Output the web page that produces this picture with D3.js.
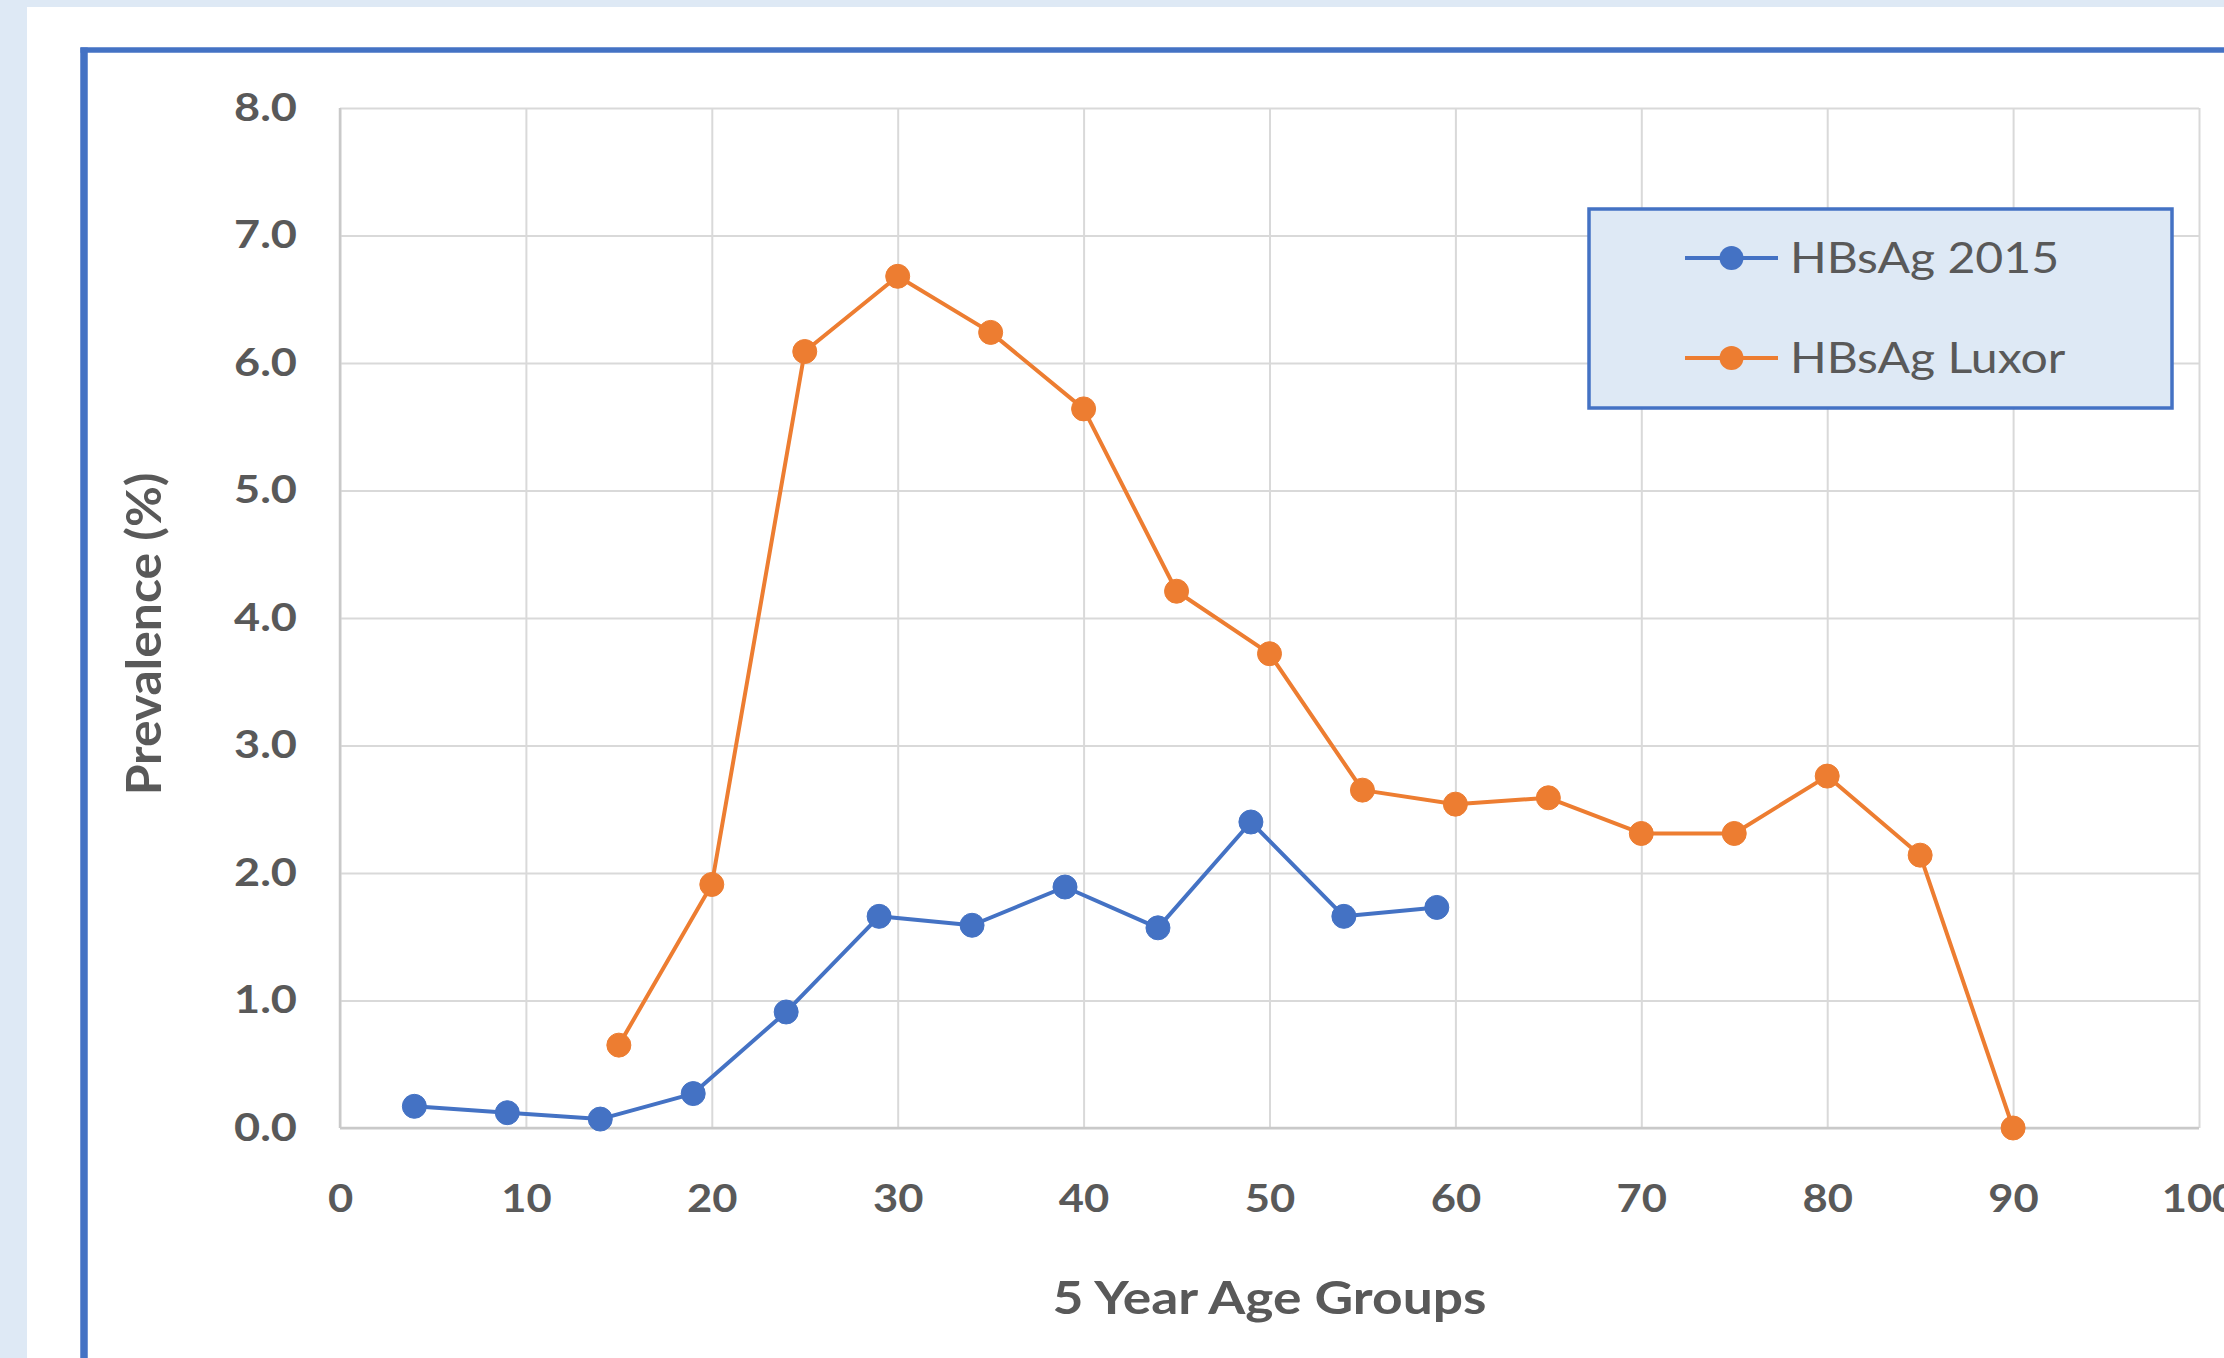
<!DOCTYPE html>
<html>
<head>
<meta charset="utf-8">
<script src="https://cdn.jsdelivr.net/npm/d3@7"></script>
<style>
  html, body { margin: 0; padding: 0; background: #dee9f5; }
  svg { display: block; }
</style>
</head>
<body>
<svg id="chart" width="2224" height="1358"></svg>
<script>
// Age groups (x) and prevalence in % (y) for each series
const ages2015 = [4, 9, 14, 19, 24, 29, 34, 39, 44, 49, 54, 59];
const prev2015 = [0.17, 0.12, 0.07, 0.27, 0.91, 1.66, 1.59, 1.89, 1.57, 2.40, 1.66, 1.73];

const agesLuxor = [15, 20, 25, 30, 35, 40, 45, 50, 55, 60, 65, 70, 75, 80, 85, 90];
const prevLuxor = [0.65, 1.91, 6.09, 6.68, 6.24, 5.64, 4.21, 3.72, 2.65, 2.54, 2.59, 2.31, 2.31, 2.76, 2.14, 0.0];

const seriesNames = ["HBsAg 2015", "HBsAg Luxor"];
const seriesColors = ["#4472c4", "#ed7d31"];

const xTicks = [0, 10, 20, 30, 40, 50, 60, 70, 80, 90, 100];
const yTicks = [0, 1, 2, 3, 4, 5, 6, 7, 8];

const xTitle = "5 Year Age Groups";
const yTitle = "Prevalence (%)";

const svg = d3.select("#chart");
const textColor = "#595959";
const font = "Lato, 'Open Sans', sans-serif";

// widen glyphs horizontally by a factor (the chart uses a broad, Calibri-like face)
function widen(sel, k) {
  sel.each(function () {
    const w = this.getComputedTextLength();
    d3.select(this).attr("textLength", w * k).attr("lengthAdjust", "spacingAndGlyphs");
  });
}

// page background: white sheet on a pale blue surround
svg.append("rect").attr("x", 0).attr("y", 0).attr("width", 2224).attr("height", 1358).attr("fill", "#dee9f5");
svg.append("rect").attr("x", 27).attr("y", 7).attr("width", 2224 - 27).attr("height", 1358 - 7).attr("fill", "#ffffff");

// chart frame (left and top edges visible)
svg.append("line").attr("x1", 84).attr("x2", 84).attr("y1", 47.5).attr("y2", 1358)
  .attr("stroke", "#4472c4").attr("stroke-width", 7.5);
svg.append("line").attr("x1", 80.5).attr("x2", 2224).attr("y1", 50).attr("y2", 50)
  .attr("stroke", "#4472c4").attr("stroke-width", 5.5);

const plot = { left: 340, right: 2199, top: 108, bottom: 1128 };

const x = d3.scaleLinear().domain([0, 100]).range([plot.left, plot.right]);
const y = d3.scaleLinear().domain([0, 8]).range([plot.bottom, plot.top]);

// gridlines
const gx = svg.append("g")
  .attr("transform", `translate(0,${plot.bottom})`)
  .call(d3.axisBottom(x).tickValues(xTicks).tickSize(-(plot.bottom - plot.top)).tickFormat(""));
gx.select(".domain").remove();
gx.selectAll(".tick line").attr("stroke", "#d9d9d9").attr("stroke-width", 2);

const gy = svg.append("g")
  .attr("transform", `translate(${plot.left},0)`)
  .call(d3.axisLeft(y).tickValues(yTicks).tickSize(-(plot.right - plot.left)).tickFormat(""));
gy.select(".domain").remove();
gy.selectAll(".tick line").attr("stroke", "#d9d9d9").attr("stroke-width", 2);

// axis lines
svg.append("line").attr("x1", plot.left).attr("x2", plot.right).attr("y1", plot.bottom).attr("y2", plot.bottom)
  .attr("stroke", "#c9c9c9").attr("stroke-width", 2.5);
svg.append("line").attr("x1", plot.left).attr("x2", plot.left).attr("y1", plot.top).attr("y2", plot.bottom)
  .attr("stroke", "#c9c9c9").attr("stroke-width", 2.5);

// tick labels
const ax = svg.append("g")
  .attr("transform", `translate(0,${plot.bottom})`)
  .call(d3.axisBottom(x).tickValues(xTicks).tickSize(0).tickPadding(57).tickFormat(d3.format("d")));
ax.select(".domain").remove();
ax.selectAll("text")
  .attr("fill", textColor).style("font-family", font).style("font-weight", 700).style("font-size", "38.5px");
widen(ax.selectAll("text"), 1.13);

const ay = svg.append("g")
  .attr("transform", `translate(${plot.left},0)`)
  .call(d3.axisLeft(y).tickValues(yTicks).tickSize(0).tickPadding(43).tickFormat(d3.format(".1f")));
ay.select(".domain").remove();
ay.selectAll("text")
  .attr("fill", textColor).style("font-family", font).style("font-weight", 700).style("font-size", "38.5px");
widen(ay.selectAll("text"), 1.17);

// axis titles
const xt = svg.append("text")
  .attr("x", (plot.left + plot.right) / 2).attr("y", 1314)
  .attr("text-anchor", "middle")
  .attr("fill", textColor).style("font-family", font).style("font-weight", 700).style("font-size", "46px")
  .text(xTitle);
widen(xt, 1.16);

const yt = svg.append("text")
  .attr("transform", "translate(161,634) rotate(-90)")
  .attr("text-anchor", "middle")
  .attr("fill", textColor).style("font-family", font).style("font-weight", 700).style("font-size", "47px")
  .text(yTitle);
widen(yt, 1.06);

// series
const series = [
  { name: seriesNames[0], color: seriesColors[0], pts: ages2015.map((a, i) => [a, prev2015[i]]) },
  { name: seriesNames[1], color: seriesColors[1], pts: agesLuxor.map((a, i) => [a, prevLuxor[i]]) }
];

const line = d3.line().x(d => x(d[0])).y(d => y(d[1]));

series.forEach(s => {
  const g = svg.append("g");
  g.append("path").attr("d", line(s.pts))
    .attr("fill", "none").attr("stroke", s.color).attr("stroke-width", 4).attr("stroke-linejoin", "round");
  g.selectAll("circle").data(s.pts).join("circle")
    .attr("cx", d => x(d[0])).attr("cy", d => y(d[1])).attr("r", 12)
    .attr("fill", s.color).attr("stroke", s.color).attr("stroke-width", 1);
});

// legend
const legend = svg.append("g");
legend.append("rect").attr("x", 1589).attr("y", 209).attr("width", 583).attr("height", 199)
  .attr("fill", "#dee9f5").attr("stroke", "#4472c4").attr("stroke-width", 3.5);

const rowY = [258, 358];
series.forEach((s, i) => {
  const row = legend.append("g").attr("transform", `translate(0,${rowY[i]})`);
  row.append("line").attr("x1", 1685).attr("x2", 1778).attr("y1", 0).attr("y2", 0)
    .attr("stroke", s.color).attr("stroke-width", 4);
  row.append("circle").attr("cx", 1731.5).attr("cy", 0).attr("r", 12).attr("fill", s.color);
  const t = row.append("text").attr("x", 1790).attr("y", 0).attr("dy", "0.36em")
    .attr("fill", textColor).style("font-family", font).style("font-weight", 400).style("font-size", "43px")
    .text(s.name);
  widen(t, 1.12);
});
</script>
</body>
</html>
